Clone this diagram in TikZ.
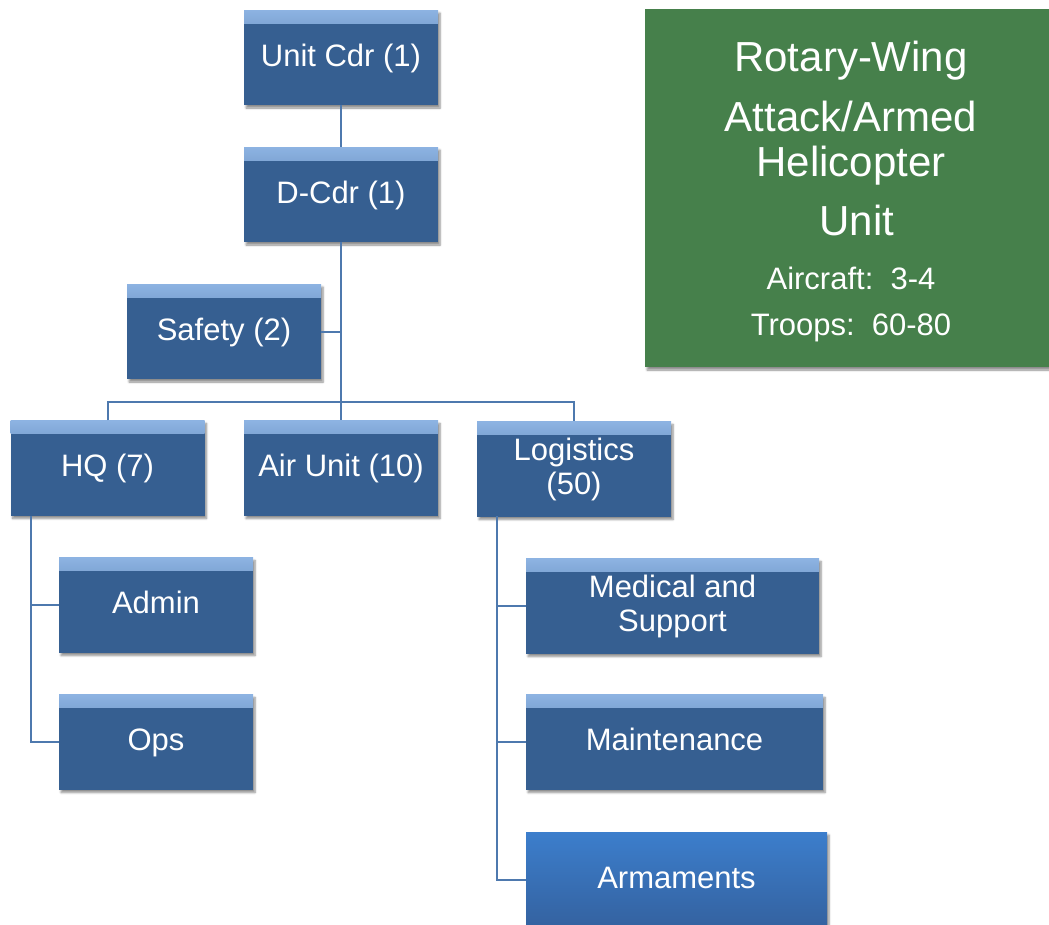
\documentclass[tikz,border=0pt]{standalone}
\usepackage{fontspec}
\setmainfont{Liberation Sans}
\usetikzlibrary{shadows.blur, positioning}
\definecolor{unitblue}{RGB}{54,95,145}
\definecolor{topblue}{RGB}{141,179,226}
\definecolor{linkblue}{RGB}{78,121,174}
\definecolor{unitgreen}{RGB}{70,128,75}
\definecolor{armtop}{RGB}{60,126,204}
\definecolor{armbot}{RGB}{52,98,160}
\tikzset{
  unit/.style={fill=unitblue, text=white, minimum width=194pt, minimum height=95pt,
    inner sep=0pt, align=center, font=\fontsize{31}{34}\selectfont,
    blur shadow={shadow xshift=2pt, shadow yshift=-3pt, shadow blur steps=6, shadow opacity=45},
    path picture={\shade[top color=topblue, middle color=topblue!45!unitblue, bottom color=unitblue]
      (path picture bounding box.north west) rectangle ([yshift=-13pt]path picture bounding box.north east);}},
  armunit/.style={unit, top color=armtop, bottom color=armbot, path picture={}},
  oneline/.style={text height=22pt, text depth=5pt},
  link/.style={draw=linkblue, line width=2pt},
  infotext/.style={text=white, anchor=base},
}

\begin{document}
\begin{tikzpicture}[x=1pt, y=-1pt]
\useasboundingbox (0,0) rectangle (1049,924);

% command chain
\node[unit, oneline] (ucdr) at (341,57.5) {Unit Cdr (1)};
\node[unit, oneline] (dcdr) at (341,194.5) {D-Cdr (1)};
\node[unit, oneline] (safety) at (224,331.5) {Safety (2)};
\node[unit, oneline] (hq) at (107.5,468) {HQ (7)};
\node[unit, oneline] (air) at (341,468) {Air Unit (10)};
\node[unit] (log) at (574,469) {Logistics\\(50)};
\node[unit, oneline] (admin) at (156,605) {Admin};
\node[unit, oneline] (ops) at (156,742) {Ops};
\node[unit, minimum width=293pt] (med) at (672.5,606) {Medical and\\Support};
\node[unit, oneline, minimum width=297pt] (maint) at (674.5,742) {Maintenance};
\node[armunit, oneline, minimum width=301pt] (arm) at (676.5,879.5) {Armaments};

% unit summary
\node[fill=unitgreen, minimum width=408pt, minimum height=358pt, inner sep=0pt,
  blur shadow={shadow xshift=2pt, shadow yshift=-3pt, shadow blur steps=6, shadow opacity=45}]
  (summary) at (849,188) {};
\node[infotext, font=\fontsize{42}{46}\selectfont] (rw) at (851,71) {Rotary-Wing};
\node[infotext, font=\fontsize{42}{46}\selectfont] (aa) at (851,131) {Attack/Armed};
\node[infotext, font=\fontsize{42}{46}\selectfont] (heli) at (851,176) {Helicopter};
\node[infotext, font=\fontsize{42}{46}\selectfont] (utxt) at (857,235) {Unit};
\node[infotext, font=\fontsize{31}{34}\selectfont] (ac) at (851,289) {Aircraft:\ \ 3-4};
\node[infotext, font=\fontsize{31}{34}\selectfont] (tr) at (851,335) {Troops:\ \ 60-80};

% connectors
\coordinate (bus) at (341,402);
\coordinate (hqs) at (31,516);
\coordinate (logs) at (497,516);
\draw[link] (ucdr.south) -- (dcdr.north);
\draw[link] (dcdr.south) -- (air.north);
\draw[link] (safety.east) -- (safety.east -| dcdr.south);
\draw[link] (hq.north) |- (bus) -| (log.north);
\draw[link] (hqs) |- (ops.west);
\draw[link] (hqs |- admin.west) -- (admin.west);
\draw[link] (logs) |- (arm.west);
\draw[link] (logs |- med.west) -- (med.west);
\draw[link] (logs |- maint.west) -- (maint.west);
\end{tikzpicture}
\end{document}
